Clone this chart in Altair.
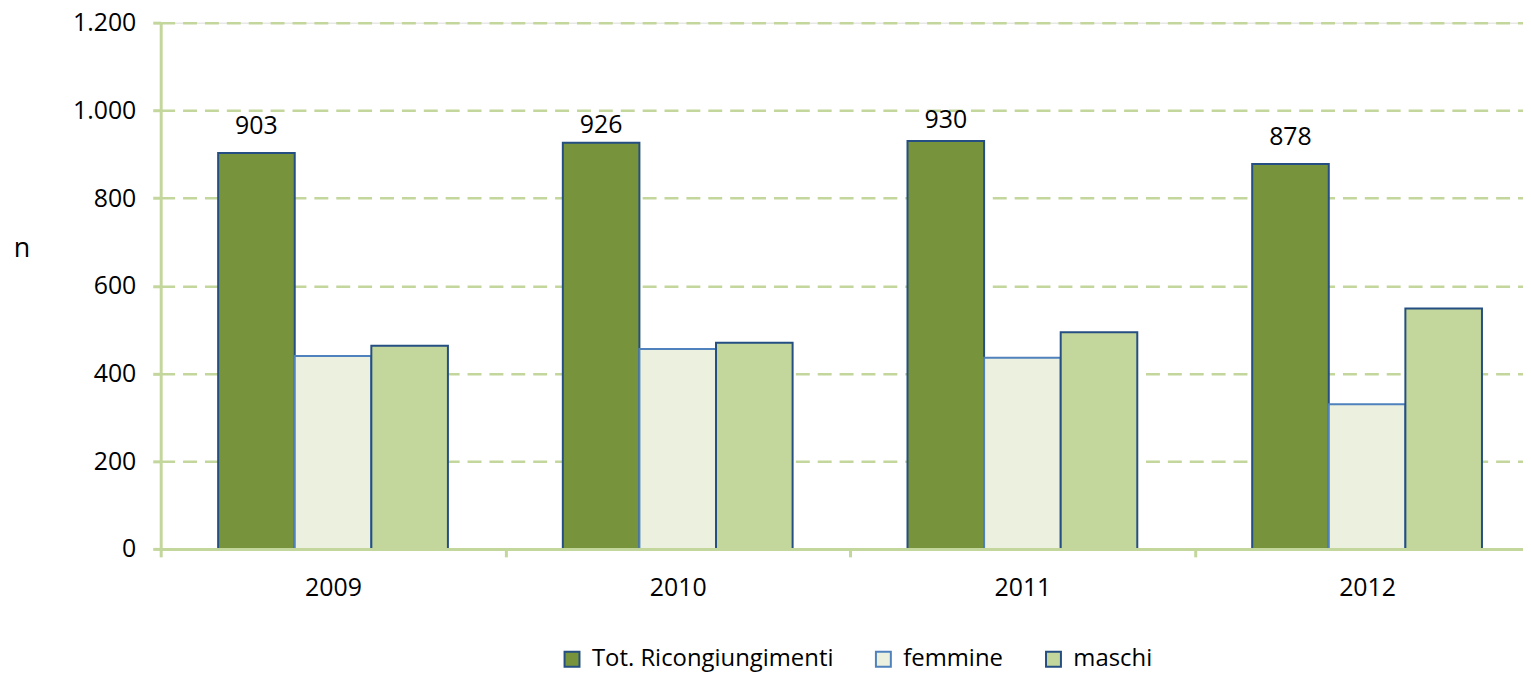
import altair as alt
import pandas as pd

years = ["2009", "2010", "2011", "2012"]
series = ["Tot. Ricongiungimenti", "femmine", "maschi"]
tot = [903, 926, 930, 878]
femmine = [440, 456, 436, 330]
maschi = [463, 470, 494, 548]
y_ticks = [0, 200, 400, 600, 800, 1000, 1200]

# layout / style (not data)
label_dy = [-19, -10, -13, -19]
fills = ["#77933C", "#EBF1DE", "#C3D69B"]
strokes = ["#254F82", "#4F81BD", "#254F82"]
GREEN = "#C3D69B"
FONT = "Open Sans"

rows = []
for i, yr in enumerate(years):
    rows.append({"anno": yr, "serie": series[0], "n": tot[i]})
    rows.append({"anno": yr, "serie": series[1], "n": femmine[i]})
    rows.append({"anno": yr, "serie": series[2], "n": maschi[i]})
df = pd.DataFrame(rows)

PLOT_W = 1369.5
STEP_RANGE = 1386

x_scale = alt.Scale(range=[0, STEP_RANGE], paddingInner=0, paddingOuter=0)
off_scale = alt.Scale(paddingInner=0, paddingOuter=0.75)

x_enc = alt.X(
    "anno:N",
    sort=years,
    scale=x_scale,
    axis=alt.Axis(
        title=None, labelAngle=0, tickBand="extent", domainColor=GREEN, domainWidth=3,
        tickColor=GREEN, tickWidth=3, tickSize=8, labelPadding=19, labelFontSize=25,
        labelFont=FONT, labelColor="#000000", zindex=1,
    ),
)
y_enc = alt.Y(
    "n:Q",
    scale=alt.Scale(domain=[0, 1200], nice=False),
    axis=alt.Axis(
        values=y_ticks,
        labelExpr="replace(format(datum.value, ','), ',', '.')",
        title="n", titleAngle=0, titleX=-140, titleY=227, titleAlign="center",
        titleBaseline="middle", titleFont=FONT, titleFontSize=27, titleFontWeight="normal",
        titleColor="#000000",
        grid=True, gridColor=GREEN, gridDash=[14, 8], gridWidth=2.5,
        domainColor=GREEN, domainWidth=3, tickColor=GREEN, tickWidth=3, tickSize=8,
        labelPadding=17, labelFontSize=25, labelFont=FONT, labelColor="#000000",
    ),
)

legend = alt.Legend(
    title=None, orient="none", legendX=401.5, legendY=628, direction="horizontal",
    symbolType="square", symbolSize=225, symbolStrokeWidth=2, labelFont=FONT,
    labelFontSize=24, labelColor="#000000", labelOffset=8, columnPadding=38,
    labelLimit=0,
)

bars = alt.Chart(df).mark_bar(strokeWidth=2).encode(
    x=x_enc,
    y=y_enc,
    xOffset=alt.XOffset("serie:N", sort=series, scale=off_scale),
    fill=alt.Fill("serie:N", sort=series, scale=alt.Scale(domain=series, range=fills), legend=legend),
    stroke=alt.Stroke("serie:N", sort=series, scale=alt.Scale(domain=series, range=strokes), legend=legend),
)

label_layers = []
for i, yr in enumerate(years):
    label_layers.append(
        alt.Chart(df).transform_filter(
            (alt.datum.serie == series[0]) & (alt.datum.anno == yr)
        ).mark_text(font=FONT, fontSize=25, color="#000000", baseline="alphabetic", dy=label_dy[i]).encode(
            x=alt.X("anno:N", sort=years),
            y=alt.Y("n:Q"),
            xOffset=alt.XOffset("serie:N", sort=series),
            text=alt.Text("n:Q", format="d"),
        )
    )

chart = alt.layer(bars, *label_layers).properties(
    width=PLOT_W,
    height=529,
    autosize=alt.AutoSizeParams(type="none"),
    padding={"left": 153.5, "top": 13, "right": 0, "bottom": 123},
).configure_view(stroke=None).configure(background="#ffffff")

chart.save("out.html", embed_options={"renderer": "svg", "actions": False})
